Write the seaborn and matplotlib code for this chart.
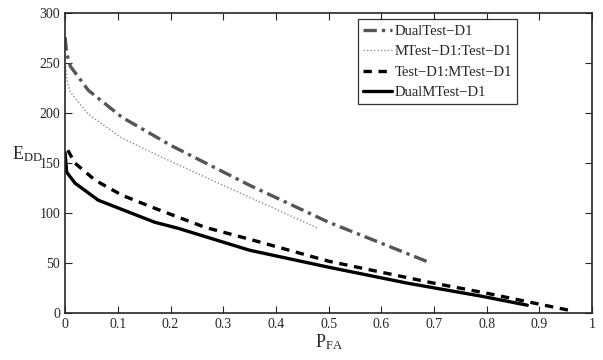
import numpy as np
import pandas as pd
import matplotlib
matplotlib.use("Agg")
import matplotlib.pyplot as plt
import seaborn as sns

# values (P_FA, E_DD)
dualtest_pfa = [0.0, 0.003, 0.01, 0.044, 0.108, 0.2, 0.35, 0.5, 0.6, 0.69]
dualtest_edd = [276, 260, 247, 223, 196, 168, 128, 91, 70, 51]

mtest_test_pfa = [0.0, 0.004, 0.01, 0.044, 0.108, 0.184, 0.32, 0.4, 0.48]
mtest_test_edd = [250, 232, 221, 199, 175, 156, 123, 104, 85]

test_mtest_pfa = [0.005, 0.019, 0.057, 0.108, 0.17, 0.265, 0.35, 0.5, 0.6, 0.7, 0.8, 0.9, 0.965]
test_mtest_edd = [163, 150, 133, 118, 105, 86, 74, 52, 41, 30, 20, 9, 2]

dualmtest_pfa = [0.0, 0.003, 0.019, 0.063, 0.17, 0.214, 0.35, 0.5, 0.65, 0.79, 0.877]
dualmtest_edd = [160, 141, 130, 113, 91, 85, 63, 46, 30, 17, 8]

labels = ["DualTest\u2212D1", "MTest\u2212D1:Test\u2212D1",
          "Test\u2212D1:MTest\u2212D1", "DualMTest\u2212D1"]

sns.set_style("ticks")
plt.rcParams["font.family"] = ["Liberation Serif", "DejaVu Serif"]
plt.rcParams["mathtext.fontset"] = "custom"
plt.rcParams["mathtext.rm"] = "Liberation Serif"
plt.rcParams["mathtext.it"] = "Liberation Serif"

fig = plt.figure(figsize=(6.03, 3.6), dpi=100)
ax = fig.add_axes([0.108, 0.13, 0.874, 0.833])

series = [
    (dualtest_pfa, dualtest_edd, dict(color="#555555", lw=2.4, dashes=(4, 1.5, 1, 1.5))),
    (mtest_test_pfa, mtest_test_edd, dict(color="#8c8c8c", lw=1.0, dashes=(1, 1.5))),
    (test_mtest_pfa, test_mtest_edd, dict(color="black", lw=2.4, dashes=(2.5, 2))),
    (dualmtest_pfa, dualmtest_edd, dict(color="black", lw=2.4)),
]
for (x, y, style), lab in zip(series, labels):
    df = pd.DataFrame({"pfa": x, "edd": y})
    sns.lineplot(data=df, x="pfa", y="edd", sort=False, ax=ax, label=lab, **style)

ax.set_xlim(0, 1)
ax.set_ylim(0, 300)
ax.set_xticks(np.arange(0, 1.01, 0.1))
ax.set_xticklabels(["0", "0.1", "0.2", "0.3", "0.4", "0.5", "0.6", "0.7", "0.8", "0.9", "1"])
ax.set_yticks(np.arange(0, 301, 50))
ax.tick_params(direction="in", top=True, right=True, labelsize=10, length=5, width=0.8)
for sp in ax.spines.values():
    sp.set_visible(True)
    sp.set_linewidth(1.2)

ax.set_xlabel(r"P$_{\rm FA}$", fontsize=13, labelpad=1)
ax.set_ylabel(r"E$_{\rm DD}$", fontsize=13, rotation=0, ha="center", va="center")
ax.yaxis.set_label_coords(-0.072, 0.53)

leg = ax.legend(loc="upper left", bbox_to_anchor=(0.555, 0.98), fontsize=10.5,
                frameon=True, fancybox=False, edgecolor="black", handlelength=2.0,
                handletextpad=0.2, borderpad=0.35, labelspacing=0.5, borderaxespad=0)
leg.get_frame().set_linewidth(0.9)

fig.savefig("out.png", dpi=100)
